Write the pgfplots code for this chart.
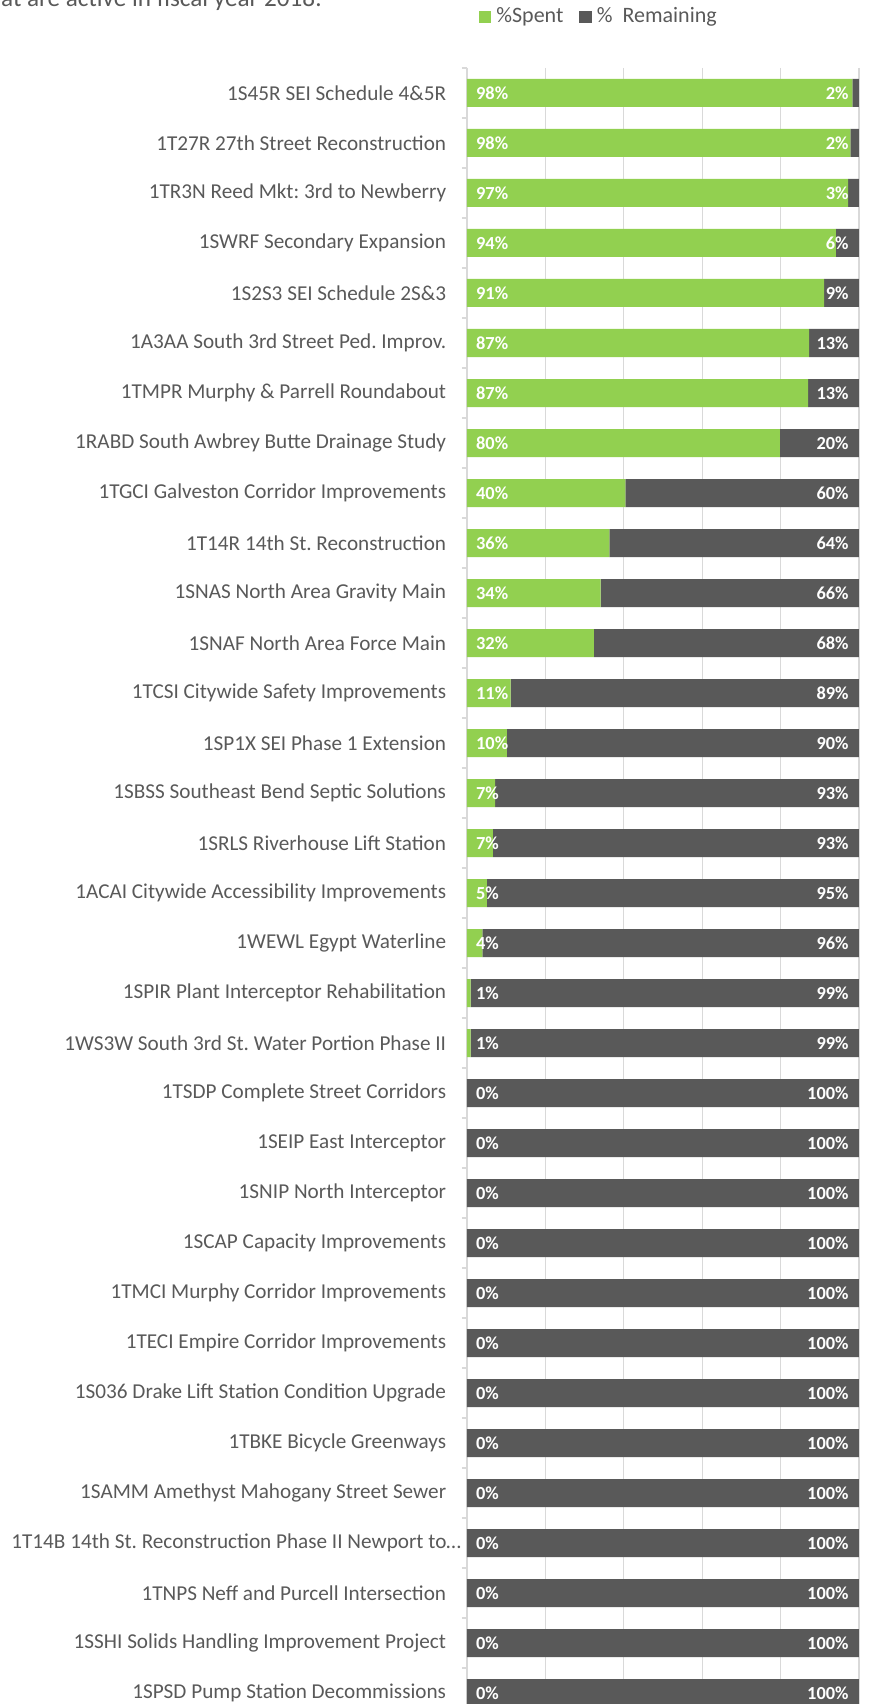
\documentclass[border=0pt]{standalone}
\usepackage{fontspec}
\setmainfont{Carlito}
\usepackage{pgfplots}
\usepackage{pgfplotstable}
\pgfplotsset{compat=1.18}
\frenchspacing
\definecolor{spent}{HTML}{92D050}
\definecolor{remain}{HTML}{595959}
\definecolor{txt}{HTML}{595959}
\definecolor{gridc}{HTML}{D9D9D9}
\pgfplotstableread{
idx spent remain sl rl
0 98.3 1.7 98 2
1 97.8 2.2 98 2
2 97.2 2.8 97 3
3 94.1 5.9 94 6
4 91.1 8.9 91 9
5 87.3 12.7 87 13
6 87.0 13.0 87 13
7 79.8 20.2 80 20
8 40.4 59.6 40 60
9 36.3 63.7 36 64
10 34.1 65.9 34 66
11 32.4 67.6 32 68
12 11.1 88.9 11 89
13 10.2 89.8 10 90
14 7.2 92.8 7 93
15 6.6 93.4 7 93
16 5.1 94.9 5 95
17 3.9 96.1 4 96
18 0.9 99.1 1 99
19 0.9 99.1 1 99
20 0 100 0 100
21 0 100 0 100
22 0 100 0 100
23 0 100 0 100
24 0 100 0 100
25 0 100 0 100
26 0 100 0 100
27 0 100 0 100
28 0 100 0 100
29 0 100 0 100
30 0 100 0 100
31 0 100 0 100
32 0 100 0 100
}\data
\begin{document}
\frenchspacing
\begin{tikzpicture}
\useasboundingbox (-233.5pt,0pt) rectangle (201pt,852pt);
\node[anchor=base east, text=txt, font=\fontsize{12.6}{15}\selectfont, inner sep=0pt] at (-72.5pt,848.6pt) {that are active in fiscal year 2018.};
\begin{axis}[
  at={(0pt,0pt)}, anchor=south west,
  width=196pt, height=818pt, scale only axis,
  xbar stacked, bar width=14pt,
  xmin=0, xmax=100,
  ymin=-0.5, ymax=32.22, y dir=reverse,
  axis x line*=bottom, axis y line*=left,
  x axis line style={draw=none},
  y axis line style={draw=gridc, line width=0.6pt},
  xtick={0,20,...,100}, xticklabels={}, xmajorgrids,
  grid style={draw=gridc, line width=0.6pt},
  ytick={0,...,32},
  yticklabels={
    {1S45R SEI Schedule 4\&5R},
    {1T27R 27th Street Reconstruction\ },
    {1TR3N Reed Mkt: 3rd to Newberry\ },
    {1SWRF Secondary Expansion\ },
    {1S2S3 SEI Schedule 2S\&3},
    {1A3AA South 3rd Street Ped. Improv.\ },
    {1TMPR Murphy \& Parrell Roundabout\ },
    {1RABD South Awbrey Butte Drainage Study},
    {1TGCI Galveston Corridor Improvements\ },
    {1T14R 14th St. Reconstruction\ },
    {1SNAS North Area Gravity Main},
    {1SNAF North Area Force Main},
    {1TCSI Citywide Safety Improvements\ },
    {1SP1X SEI Phase 1 Extension},
    {1SBSS Southeast Bend Septic Solutions},
    {1SRLS Riverhouse Lift Station\ },
    {1ACAI Citywide Accessibility Improvements\ },
    {1WEWL Egypt Waterline},
    {1SPIR Plant Interceptor Rehabilitation\ },
    {1WS3W South 3rd St. Water Portion Phase II},
    {1TSDP Complete Street Corridors},
    {1SEIP East Interceptor},
    {1SNIP North Interceptor\ },
    {1SCAP Capacity Improvements},
    {1TMCI Murphy Corridor Improvements},
    {1TECI Empire Corridor Improvements},
    {1S036 Drake Lift Station Condition Upgrade},
    {1TBKE Bicycle Greenways},
    {1SAMM Amethyst Mahogany Street Sewer},
    {1T14B 14th St. Reconstruction Phase II Newport to…\kern-7.5pt},
    {1TNPS Neff and Purcell Intersection\ },
    {1SSHI Solids Handling Improvement Project},
    {1SPSD Pump Station Decommissions}},
  minor ytick={-0.5,0.5,...,32.5},
  major tick length=0pt, minor tick length=2.5pt, tick align=outside,
  minor tick style={draw=gridc, line width=0.6pt},
  yticklabel style={font=\fontsize{10.6}{12}\selectfont\frenchspacing, text=txt, anchor=east, inner sep=0pt, xshift=-10.25pt},
  legend columns=2,
  legend style={at={(axis description cs:0.0306,1.0313)}, anchor=west, draw=none, fill=none, inner sep=0pt, outer sep=0pt,
    font=\fontsize{11}{13}\selectfont, text=txt, nodes={inner sep=0pt},
    column sep=2.5pt,
    /tikz/every even column/.append style={column sep=8pt}},
  legend image code/.code={\fill[#1] (0pt,-3.1pt) rectangle (6.2pt,3.1pt);},
]
\addplot[draw=none, fill=spent] table[x=spent, y=idx] {\data};
\addlegendentry{\%Spent}
\addplot[draw=none, fill=remain] table[x=remain, y=idx] {\data};
\addlegendentry{\%\ \ Remaining}
\end{axis}
\begin{axis}[
  at={(0pt,0pt)}, anchor=south west,
  width=196pt, height=818pt, scale only axis,
  xmin=0, xmax=100, ymin=-0.5, ymax=32.22, y dir=reverse,
  hide axis, clip=false]
\addplot[only marks, mark=text, text mark={},
  point meta=explicit symbolic, nodes near coords={\pgfplotspointmeta\%},
  every node near coord/.append style={anchor=west, inner sep=0pt, xshift=4.35pt, text=white, font=\bfseries\fontsize{9.2}{11}\selectfont}]
  table[x expr=0, y=idx, meta=sl] {\data};
\addplot[only marks, mark=text, text mark={},
  point meta=explicit symbolic, nodes near coords={\pgfplotspointmeta\%},
  every node near coord/.append style={anchor=east, inner sep=0pt, xshift=-5pt, text=white, font=\bfseries\fontsize{9.2}{11}\selectfont}]
  table[x expr=100, y=idx, meta=rl] {\data};
\end{axis}
\end{tikzpicture}
\end{document}
